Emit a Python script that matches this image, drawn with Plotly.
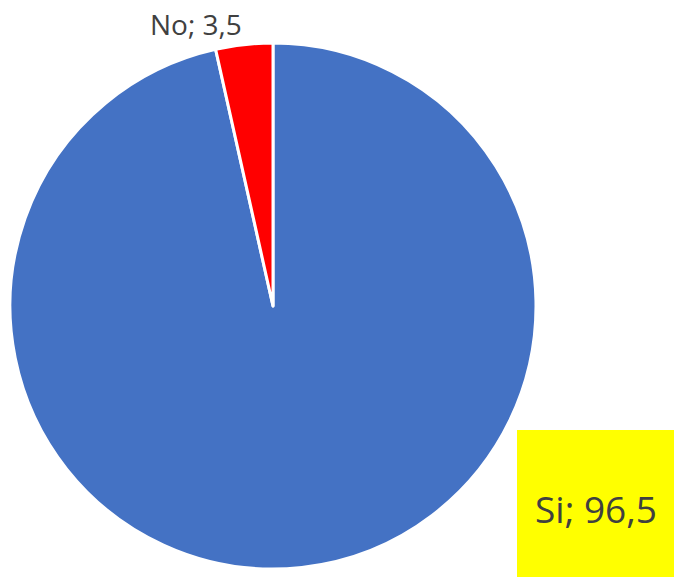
import plotly.graph_objects as go

labels = ["Si", "No"]
values = [96.5, 3.5]
colors = ["#4472C4", "#FF0000"]

W, H = 674, 577

def fmt(l, v):
    return f"{l}; {str(v).replace('.', ',')}"

fig = go.Figure(go.Pie(
    labels=labels, values=values, sort=False, direction="clockwise", rotation=0,
    marker=dict(colors=colors, line=dict(color="white", width=3)),
    textinfo="none", hoverinfo="label+value", showlegend=False,
    domain=dict(x=[10 / W, 536 / W], y=[8 / H, 534 / H]),
))

# yellow box for Si label
fig.add_shape(type="rect", xref="paper", yref="paper",
              x0=517 / W, x1=1, y0=0, y1=1 - 430 / H,
              fillcolor="#FFFF00", line=dict(width=0), layer="above")
fig.add_annotation(x=596 / W, y=1 - 508 / H, xref="paper", yref="paper",
                   xanchor="center", yanchor="middle",
                   text=fmt(labels[0], values[0]), showarrow=False,
                   font=dict(size=37, color="#404040", family="Open Sans"))
fig.add_annotation(x=196 / W, y=1 - 24 / H, xref="paper", yref="paper",
                   xanchor="center", yanchor="middle",
                   text=fmt(labels[1], values[1]), showarrow=False,
                   font=dict(size=28, color="#404040", family="Open Sans"))

fig.update_layout(width=W, height=H, margin=dict(l=0, r=0, t=0, b=0),
                  paper_bgcolor="white", plot_bgcolor="white")
fig.write_html("out.html", config={"displayModeBar": False},
               post_script="document.body.style.margin='0';document.body.style.overflow='hidden';")
